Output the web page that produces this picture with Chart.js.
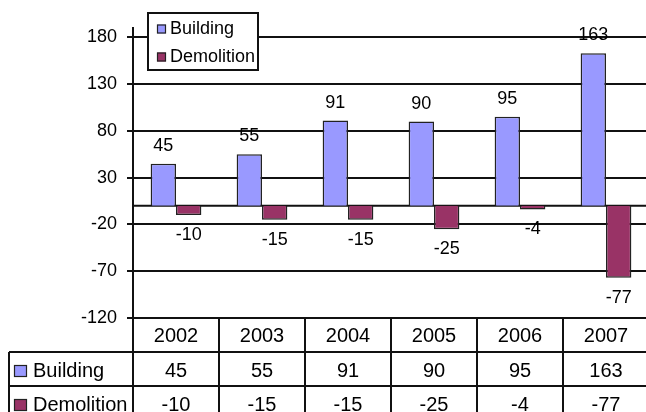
<!DOCTYPE html>
<html>
<head>
<meta charset="utf-8">
<script src="https://cdn.jsdelivr.net/npm/chart.js@4"></script>
<style>
  html, body { margin: 0; padding: 0; background: #fff; overflow: hidden; }
  #wrap { width: 652px; height: 412px; }
</style>
</head>
<body>
<div id="wrap"><canvas id="chart" width="652" height="412"></canvas></div>
<script>
const years = ['2002', '2003', '2004', '2005', '2006', '2007'];
const building = [45, 55, 91, 90, 95, 163];
const demolition = [-10, -15, -15, -25, -4, -77];
const yTicks = [-120, -70, -20, 30, 80, 130, 180];
const seriesNames = ['Building', 'Demolition'];
const seriesColors = ['#9999FF', '#993366'];

const FONT = '"Liberation Sans", Arial, sans-serif';
const LINE = '#111';
const LW = 2;

// value labels above / below the bars
const labelPlugin = {
  id: 'barLabels',
  beforeDatasetsDraw(chart) {
    // the zero line (category axis)
    const ctx = chart.ctx;
    const y0 = chart.scales.y.getPixelForValue(0);
    ctx.save();
    ctx.strokeStyle = LINE;
    ctx.lineWidth = LW;
    ctx.beginPath();
    ctx.moveTo(chart.chartArea.left, y0);
    ctx.lineTo(chart.chartArea.right, y0);
    ctx.stroke();
    ctx.restore();
  },
  afterDatasetsDraw(chart) {
    const ctx = chart.ctx;
    ctx.save();
    ctx.font = '18px ' + FONT;
    ctx.fillStyle = '#000';
    ctx.textAlign = 'center';
    ctx.textBaseline = 'middle';
    chart.data.datasets.forEach((ds, i) => {
      chart.getDatasetMeta(i).data.forEach((bar, j) => {
        const v = ds.data[j];
        if (v >= 0) {
          ctx.fillText(String(v), bar.x, bar.y - 18);
        } else {
          ctx.fillText(String(v), bar.x, bar.y + 20);
        }
      });
    });
    ctx.restore();
  }
};

// legend box + data table under the plot
const tablePlugin = {
  id: 'dataTable',
  afterDraw(chart) {
    const ctx = chart.ctx;
    const area = chart.chartArea;
    const xs = chart.scales.x;
    const colW = (area.right - area.left) / years.length;
    const top = area.bottom;
    const rowH = 34;
    const tableLeft = 9;

    ctx.save();
    ctx.strokeStyle = LINE;
    ctx.lineWidth = LW;
    ctx.beginPath();
    // horizontal lines
    ctx.moveTo(tableLeft, top + rowH); ctx.lineTo(area.right, top + rowH);
    ctx.moveTo(tableLeft, top + rowH * 2); ctx.lineTo(area.right, top + rowH * 2);
    // vertical lines
    ctx.moveTo(tableLeft, top + rowH); ctx.lineTo(tableLeft, chart.height);
    ctx.moveTo(area.left, top); ctx.lineTo(area.left, chart.height);
    for (let i = 1; i <= years.length; i++) {
      const x = area.left + colW * i;
      ctx.moveTo(x, top); ctx.lineTo(x, chart.height);
    }
    ctx.stroke();

    ctx.fillStyle = '#000';
    ctx.font = '20px ' + FONT;
    ctx.textAlign = 'center';
    ctx.textBaseline = 'middle';
    years.forEach((yr, i) => {
      const cx = xs.getPixelForValue(i);
      ctx.fillText(yr, cx, top + rowH / 2 + 1);
      ctx.fillText(String(building[i]), cx, top + rowH * 1.5 + 2);
      ctx.fillText(String(demolition[i]), cx, top + rowH * 2.5 + 2);
    });

    // row headers with colour keys
    ctx.textAlign = 'left';
    seriesNames.forEach((name, i) => {
      const cy = top + rowH * (1.5 + i) + 2;
      ctx.fillStyle = seriesColors[i];
      ctx.fillRect(14, cy - 6, 13, 12);
      ctx.strokeStyle = '#222';
      ctx.lineWidth = 1.2;
      ctx.strokeRect(14.5, cy - 5.5, 12, 11);
      ctx.fillStyle = '#000';
      ctx.fillText(name, 33, cy);
    });

    // legend
    const lx = 148, ly = 13, lw = 110, lh = 57;
    ctx.fillStyle = '#fff';
    ctx.fillRect(lx, ly, lw, lh);
    ctx.strokeStyle = LINE;
    ctx.lineWidth = LW;
    ctx.strokeRect(lx, ly, lw, lh);
    ctx.font = '18px ' + FONT;
    seriesNames.forEach((name, i) => {
      const cy = 29 + i * 28;
      ctx.fillStyle = seriesColors[i];
      ctx.fillRect(157, cy - 4.5, 9, 9);
      ctx.strokeStyle = '#222';
      ctx.lineWidth = 1.2;
      ctx.strokeRect(157.5, cy - 4, 8, 8);
      ctx.fillStyle = '#000';
      ctx.fillText(name, 170, cy);
    });
    ctx.restore();
  }
};

const ctx = document.getElementById('chart');
new Chart(ctx, {
  type: 'bar',
  data: {
    labels: years,
    datasets: [{
      label: seriesNames[0],
      data: building,
      backgroundColor: seriesColors[0],
      borderColor: '#222',
      borderWidth: 1.5
    }, {
      label: seriesNames[1],
      data: demolition,
      backgroundColor: seriesColors[1],
      borderColor: '#222',
      borderWidth: 1.5
    }]
  },
  options: {
    responsive: false,
    animation: false,
    layout: { padding: { left: 0, top: 28, right: 3, bottom: 94 } },
    datasets: { bar: { barPercentage: 1, categoryPercentage: 0.59 } },
    plugins: {
      legend: { display: false },
      tooltip: { enabled: false }
    },
    scales: {
      x: { display: false },
      y: {
        min: -120,
        max: 190,
        afterBuildTicks(scale) {
          scale.ticks = yTicks.map(v => ({ value: v }));
        },
        afterFit(scale) {
          scale.width = 133;
        },
        grid: {
          color: LINE,
          lineWidth: LW,
          tickLength: 6,
          tickColor: LINE
        },
        border: { display: true, color: LINE, width: LW },
        ticks: {
          padding: 10,
          color: '#000',
          font: { family: FONT, size: 18 }
        }
      }
    }
  },
  plugins: [labelPlugin, tablePlugin]
});
</script>
</body>
</html>
